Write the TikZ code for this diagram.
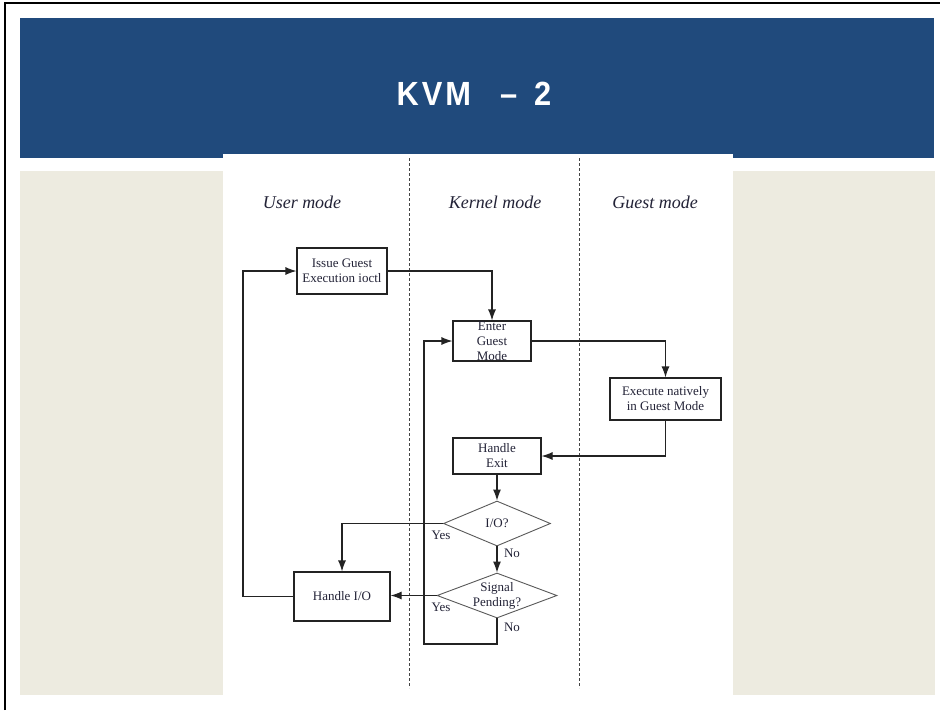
\documentclass[tikz,border=0pt]{standalone}
\usepackage{fontspec}
\setmainfont{Liberation Serif}
\newfontfamily\titlefont[LetterSpace=9,FakeStretch=0.92]{Liberation Sans Bold}
\usetikzlibrary{shapes.geometric,arrows.meta}
\definecolor{banner}{RGB}{32,74,124}
\definecolor{beige}{RGB}{237,235,224}
\definecolor{ink}{RGB}{35,35,35}
\definecolor{txtc}{RGB}{35,35,55}
\begin{document}
\begin{tikzpicture}[x=1pt,y=-1pt,
  box/.style={draw=ink, line width=1.1pt, inner sep=0pt, fill=white},
  dia/.style={diamond, draw=black!65, line width=0.9pt, inner sep=0pt, fill=white},
  txt/.style={font=\fontsize{13}{15}\selectfont, text=txtc, align=center, inner sep=0pt},
  lbl/.style={font=\fontsize{13}{15}\selectfont, text=txtc, inner sep=0pt},
  mode/.style={font=\fontsize{18}{20}\selectfont\itshape, text=txtc, inner sep=0pt},
  conn/.style={draw=ink, line width=1.1pt},
  arr/.style={conn, -{Latex[length=11pt,width=8pt]}},
  lane/.style={draw=ink!85, line width=0.9pt, dash pattern=on 3pt off 2pt}
]
\useasboundingbox (0,0) rectangle (940,710);
\fill[white] (0,0) rectangle (940,710);
% frame
\draw[black, line width=2pt] (5,710) -- (5,3) -- (940,3);
% banner and panels
\fill[banner] (20,18) rectangle (934,158);
\fill[beige] (20,171) rectangle (223,695);
\fill[beige] (733,171) rectangle (935,695);
\fill[white] (223,154) rectangle (733,695);
\node[font=\titlefont\fontsize{33.5}{36}\selectfont, text=white, inner sep=0pt] (title) at (474,94) {KVM\hspace{29pt}–\hspace{17pt}2};
% lanes
\draw[lane] (409,158) -- (409,688);
\draw[lane] (579,158) -- (579,688);
\node[mode] (um) at (302,202) {User mode};
\node[mode] (km) at (495,202) {Kernel mode};
\node[mode] (gm) at (655,202) {Guest mode};
% boxes
\node[box, minimum width=90pt, minimum height=46pt] (issue) at (342,271) {};
\node[txt] (issuet) at (issue) {Issue Guest\\Execution ioctl};
\node[box, minimum width=78pt, minimum height=40pt] (enter) at (492,341) {};
\node[txt] (entert) at (enter) {Enter\\Guest\\Mode};
\node[box, minimum width=111pt, minimum height=42pt] (exec) at (665.5,399) {};
\node[txt] (exect) at (exec) {Execute natively\\in Guest Mode};
\node[box, minimum width=88pt, minimum height=36pt] (hexit) at (497,456) {};
\node[txt] (hexitt) at (hexit) {Handle\\Exit};
\node[box, minimum width=96pt, minimum height=49pt] (hio) at (342,596.5) {};
\node[txt] (hiot) at (hio) {Handle I/O};
\node[dia, minimum width=107pt, minimum height=45pt] (io) at (497,523.5) {};
\node[txt] (iot) at (io) {I/O?};
\node[dia, minimum width=120pt, minimum height=45pt] (sig) at (497,595.5) {};
\node[txt] (sigt) at (sig) {Signal\\Pending?};
% connectors
\coordinate (lb) at (424,644);
\coordinate (ll) at (243,0);
\draw[arr] (issue.east) -| (enter.north);
\draw[arr] (enter.east) -| (exec.north);
\draw[arr] (exec.south) |- (hexit.east);
\draw[arr] (hexit.south) -- (io.north);
\draw[arr] (io.west) -| (hio.north);
\draw[arr] (io.south) -- (sig.north);
\draw[arr] (sig.west) -- (sig.west -| hio.east);
\draw[arr] (sig.south) |- (lb) |- (enter.west);
\draw[arr] (hio.west) -- (hio.west -| ll) |- (issue.west);
% labels
\node[lbl] (y1) at (441,535) {Yes};
\node[lbl] (n1) at (512,553) {No};
\node[lbl] (y2) at (441,607) {Yes};
\node[lbl] (n2) at (512,627) {No};
\end{tikzpicture}
\end{document}
